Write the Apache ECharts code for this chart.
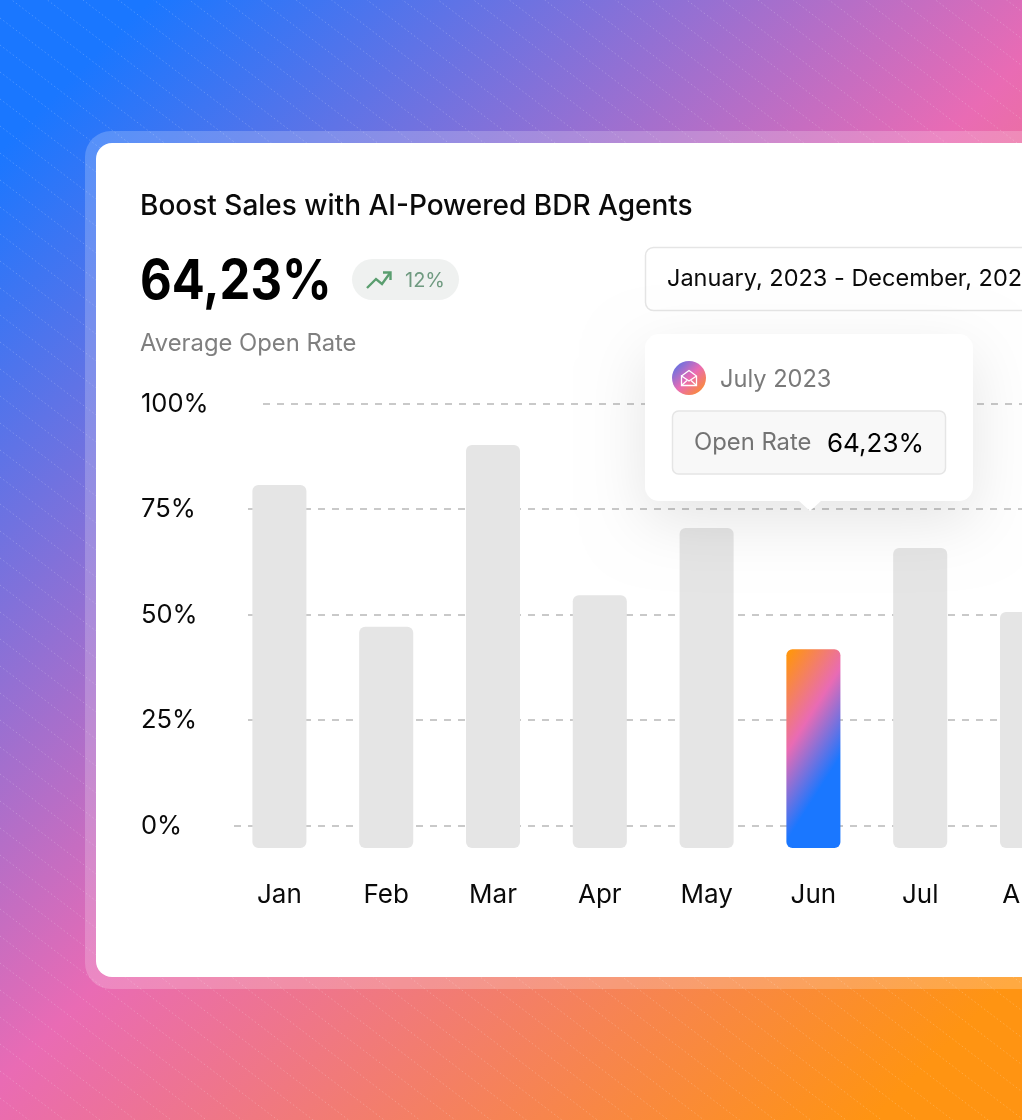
<!DOCTYPE html>
<html><head><meta charset="utf-8">
<style>html,body{margin:0;padding:0;background:#fff;overflow:hidden}#c{width:1022px;height:1120px}</style>
<script src="https://cdn.jsdelivr.net/npm/echarts@6/dist/echarts.min.js"></script>
</head><body><div id="c"></div>
<script>
const months = ['Jan','Feb','Mar','Apr','May','Jun','Jul','Aug'];
const openRate = [80.8,47.2,90.3,54.7,70.6,41.9,65.9,50.7];
const yTicks = [0,25,50,75,100];
const highlightMonth = 'Jun';
const barFloor = -5.2;
const title = 'Boost Sales with AI-Powered BDR Agents';
const headline = '64,23%';
const change = '12%';
const subtitle = 'Average Open Rate';
const dateRange = 'January, 2023 - December, 2023';
const tipMonth = 'July 2023';
const tipLabel = 'Open Rate';
const tipValue = '64,23%';

const FONT = 'Inter, sans-serif';
const lineStart = {100:263,75:248,50:248,25:248,0:234};
const G = echarts.graphic.LinearGradient;

const txt = (text,x,y,size,fill,weight,z)=>({type:'text',z:z||5,silent:true,
  style:{text,x,y,fill,font:`${weight||400} ${size}px ${FONT}`,verticalAlign:'middle',align:'left'}});
const poly = (points,stroke,lineWidth,z)=>({type:'polyline',z,silent:true,shape:{points},style:{fill:null,stroke,lineWidth}});

const hatchLines = [];
for (let b = -900; b < 1200; b += 27) {
  hatchLines.push({type:'line',z:-19,silent:true,shape:{x1:0,y1:b,x2:1022,y2:b+1022*0.76},
    style:{stroke:'rgba(255,255,255,0.2)',lineWidth:1,lineDash:[1.5,2.5]}});
}

const graphicEls = [
  {type:'rect',z:-20,silent:true,shape:{x:0,y:0,width:1022,height:1120},
   style:{fill:new G(0,0,1071,1071,[
     {offset:0.07,color:'#1a77ff'},{offset:0.505,color:'#e96bb4'},{offset:0.93,color:'#ff9412'}],true)}},
  ...hatchLines,
  {type:'rect',z:-18,silent:true,shape:{x:85,y:131,width:1100,height:858,r:26},style:{fill:'rgba(255,255,255,0.2)'}},
  {type:'rect',z:-17,silent:true,shape:{x:96,y:143,width:1100,height:834,r:16},style:{fill:'#fff'}},
  txt(title,140,207,28,'#0a0a0a',500),
  {type:'text',z:5,silent:true,x:140,y:282,scaleX:0.89,
   style:{text:headline,x:0,y:0,fill:'#000',font:`700 55px ${FONT}`,verticalAlign:'middle',align:'left'}},
  {type:'rect',z:5,silent:true,shape:{x:352,y:259,width:107,height:41,r:20.5},style:{fill:'#eff1f0'}},
  poly([[367,288],[376,279],[382,284],[390,273]],'#5a9e6f',2.4,6),
  poly([[383,272.5],[390.5,272.5],[390.5,280]],'#5a9e6f',2.4,6),
  txt(change,405,281,20,'#6f9a80',400),
  txt(subtitle,140,344,23.8,'#7f7f7f',400),
  {type:'rect',z:5,silent:true,shape:{x:645.5,y:247.5,width:420,height:63,r:8},style:{fill:'#fff',stroke:'#e5e5e5',lineWidth:1.5}},
  txt(dateRange,667,279,23.5,'#0a0a0a',400,6),
  {type:'rect',z:50,silent:true,shape:{x:645,y:334,width:328,height:167,r:14},
   style:{fill:'#fff',shadowBlur:60,shadowOffsetY:20,shadowColor:'rgba(0,0,0,0.1)'}},
  {type:'polygon',z:51,silent:true,shape:{points:[[798,500],[822,500],[810,511]]},style:{fill:'#fff'}},
  {type:'circle',z:52,silent:true,shape:{cx:689,cy:378,r:17},
   style:{fill:new G(0,0,1,1,[{offset:0,color:'#3f74f0'},{offset:0.5,color:'#e96bb4'},{offset:1,color:'#ff9412'}])}},
  poly([[681.5,376],[689,370.5],[696.5,376],[696.5,385.5],[681.5,385.5],[681.5,376],[689,381],[696.5,376]],'#fff',1.3,53),
  poly([[682,385],[687,380.5]],'#fff',1.3,53),
  poly([[696,385],[691,380.5]],'#fff',1.3,53),
  txt(tipMonth,720,379.5,23.6,'#7a7a7a',400,52),
  {type:'rect',z:52,silent:true,shape:{x:672.5,y:411,width:273,height:63,r:6},style:{fill:'#f8f8f8',stroke:'#e5e5e5',lineWidth:1.5}},
  txt(tipLabel,694,443,23.8,'#737373',400,53),
  txt(tipValue,827,444,26,'#000',400,53)
];

const chart = echarts.init(document.getElementById('c'),null,{renderer:'canvas'});
chart.setOption({
  animation:false,
  backgroundColor:'transparent',
  graphic:{elements:graphicEls},
  grid:{left:226,top:404,height:422,width:months.length*106.8,containLabel:false,outerBoundsMode:'none'},
  xAxis:{type:'category',data:months,axisLine:{show:false},axisTick:{show:false},
    axisLabel:{color:'#0a0a0a',fontFamily:FONT,fontSize:26,margin:56,interval:0,hideOverlap:false}},
  yAxis:{type:'value',min:0,max:100,interval:25,axisLine:{show:false},axisTick:{show:false},splitLine:{show:false},
    axisLabel:{color:'#0a0a0a',fontFamily:FONT,fontSize:25.5,align:'left',margin:85,padding:[4,0,0,0],formatter:'{value}%'}},
  series:[
    {type:'custom',name:'grid',silent:true,z:1,clip:false,
     data:yTicks.map(v=>[0,v]),encode:{x:0,y:1},
     renderItem:(p,api)=>{
       const v=api.value(1), y=Math.floor(api.coord([0,v])[1]);
       return {type:'line',shape:{x1:lineStart[v],y1:y,x2:1022,y2:y},
         style:{stroke:'#b8b8b8',lineWidth:1.5,lineDash:[7,7]}};
     }},
    {type:'custom',name:'Open Rate',silent:true,z:3,clip:false,
     data:openRate.map((v,i)=>[i,v]),encode:{x:0,y:1},
     renderItem:(p,api)=>{
       const i=api.value(0), top=api.coord([i,api.value(1)]), bot=api.coord([i,barFloor]);
       const w=api.size([1,0])[0]*0.506;
       const hi=months[i]===highlightMonth;
       return {type:'rect',
         shape:{x:top[0]-w/2,y:top[1],width:w,height:bot[1]-top[1],r:6},
         style:{fill:hi?new G(0,0,1.61,0.278,[{offset:0.05,color:'#ff9412'},{offset:0.54,color:'#e96bb4'},{offset:1,color:'#1a77ff'}]):'#e5e5e5'}};
     }}
  ]
});
</script></body></html>
